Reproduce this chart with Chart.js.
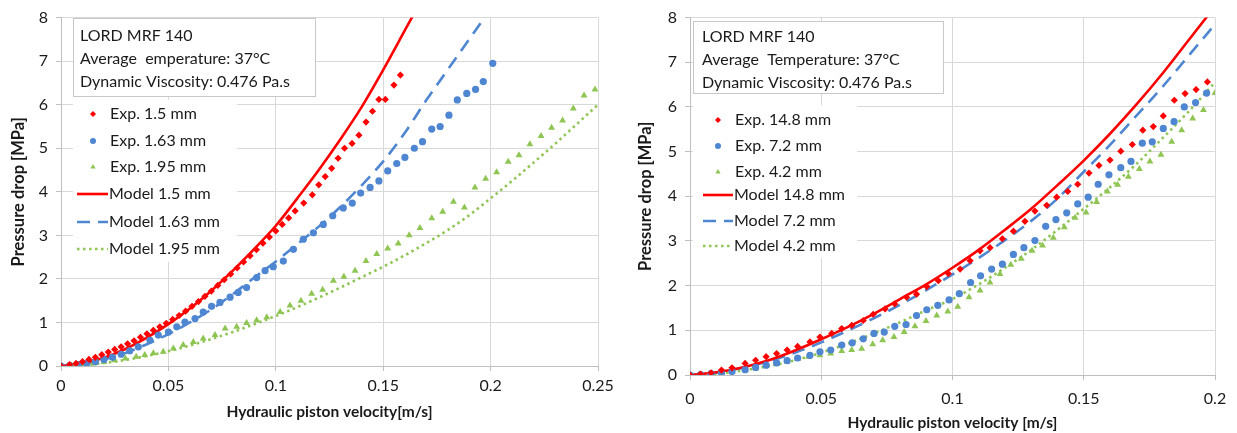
<!DOCTYPE html>
<html>
<head>
<meta charset="utf-8">
<script src="https://cdn.jsdelivr.net/npm/chart.js@4.4.0/dist/chart.umd.min.js"></script>
<style>
    html, body { margin: 0; padding: 0; background: #fff; }
    #wrap { position: relative; width: 1237px; height: 433px; }
    .panel { position: absolute; top: 0; height: 433px; }
    #left { left: 0; width: 620px; }
    #right { left: 620px; width: 617px; }
</style>
</head>
<body>
<div id="wrap">
    <div class="panel" id="left"><canvas id="chartLeft"></canvas></div>
    <div class="panel" id="right"><canvas id="chartRight"></canvas></div>
</div>
<script>
// ---- left panel: gap size ----
var leftModelV = [0, 0.01, 0.02, 0.03, 0.04, 0.05, 0.06, 0.07, 0.08, 0.09, 0.10, 0.11, 0.12, 0.13, 0.14, 0.15, 0.16, 0.17, 0.18, 0.19, 0.20, 0.21, 0.22, 0.23, 0.24, 0.25];
var model15 = [0, 0.06, 0.19, 0.39, 0.65, 0.96, 1.32, 1.73, 2.19, 2.69, 3.22, 3.85, 4.5, 5.2, 5.95, 6.8, 7.7, 8.6];
var model163 = [0, 0.05, 0.15, 0.3, 0.5, 0.73, 1.0, 1.3, 1.65, 2.03, 2.4, 2.8, 3.2, 3.65, 4.15, 4.7, 5.35, 6.1, 6.8, 7.5, 8.2];
var model195 = [0, 0.02, 0.07, 0.14, 0.23, 0.34, 0.47, 0.62, 0.78, 0.96, 1.15, 1.35, 1.57, 1.8, 2.04, 2.28, 2.54, 2.82, 3.12, 3.46, 3.85, 4.25, 4.67, 5.1, 5.55, 6.0];

var exp15V = [0, 0.004, 0.007, 0.010, 0.013, 0.016, 0.019, 0.022, 0.025, 0.028, 0.031, 0.034, 0.037, 0.040, 0.043, 0.046, 0.049, 0.052, 0.055, 0.058, 0.061, 0.064, 0.067, 0.070, 0.073, 0.076, 0.079, 0.082, 0.085, 0.088, 0.091, 0.094, 0.097, 0.100, 0.103, 0.106, 0.109, 0.113, 0.117, 0.120, 0.123, 0.126, 0.129, 0.132, 0.1355, 0.1387, 0.142, 0.145, 0.148, 0.151, 0.155, 0.158];
var exp15P = [0, 0.03, 0.06, 0.10, 0.15, 0.20, 0.26, 0.32, 0.38, 0.44, 0.51, 0.58, 0.66, 0.74, 0.82, 0.90, 0.98, 1.07, 1.16, 1.26, 1.37, 1.48, 1.60, 1.72, 1.85, 1.98, 2.11, 2.25, 2.39, 2.53, 2.67, 2.82, 2.96, 3.10, 3.25, 3.40, 3.56, 3.74, 3.93, 4.16, 4.35, 4.54, 4.77, 5.0, 5.11, 5.30, 5.60, 5.85, 6.12, 6.12, 6.45, 6.68];
var exp163V = [0, 0.004, 0.008, 0.012, 0.016, 0.02, 0.024, 0.028, 0.032, 0.036, 0.0414, 0.0453, 0.05, 0.0539, 0.0577, 0.0624, 0.0662, 0.0701, 0.074, 0.0787, 0.0825, 0.0864, 0.0911, 0.095, 0.0988, 0.1035, 0.1082, 0.1128, 0.1175, 0.1221, 0.1265, 0.1314, 0.1356, 0.1395, 0.1439, 0.148, 0.1521, 0.1563, 0.1601, 0.1645, 0.1683, 0.1726, 0.1765, 0.1806, 0.1845, 0.1889, 0.193, 0.1966, 0.201];
var exp163P = [0, 0.01, 0.03, 0.06, 0.1, 0.15, 0.2, 0.27, 0.35, 0.44, 0.59, 0.71, 0.78, 0.9, 1.01, 1.09, 1.24, 1.37, 1.46, 1.58, 1.69, 1.8, 2.03, 2.19, 2.28, 2.41, 2.68, 2.91, 3.06, 3.25, 3.45, 3.63, 3.74, 3.97, 4.1, 4.25, 4.48, 4.65, 4.79, 5.0, 5.15, 5.44, 5.5, 5.76, 6.11, 6.26, 6.35, 6.53, 6.95];
var exp195V = [0, 0.005, 0.01, 0.015, 0.02, 0.025, 0.03, 0.035, 0.039, 0.043, 0.0476, 0.0523, 0.0569, 0.0616, 0.0662, 0.0717, 0.0764, 0.0818, 0.0864, 0.0911, 0.0958, 0.102, 0.1066, 0.1117, 0.1167, 0.1218, 0.1268, 0.1317, 0.1369, 0.142, 0.147, 0.1521, 0.157, 0.1621, 0.1671, 0.1726, 0.1777, 0.1827, 0.1878, 0.1927, 0.1977, 0.2028, 0.2082, 0.2132, 0.2183, 0.2235, 0.2284, 0.2335, 0.2385, 0.2435, 0.2486];
var exp195P = [0, 0.01, 0.03, 0.06, 0.09, 0.13, 0.17, 0.21, 0.25, 0.29, 0.33, 0.4, 0.48, 0.55, 0.63, 0.71, 0.86, 0.9, 0.99, 1.05, 1.12, 1.24, 1.39, 1.5, 1.66, 1.75, 1.96, 2.05, 2.19, 2.41, 2.57, 2.7, 2.81, 3.0, 3.17, 3.39, 3.54, 3.77, 3.64, 4.1, 4.3, 4.45, 4.69, 4.84, 5.09, 5.28, 5.47, 5.64, 5.91, 6.21, 6.35];

// ---- right panel: gap length ----
var rightModelV = [0, 0.01, 0.02, 0.03, 0.04, 0.05, 0.06, 0.07, 0.08, 0.09, 0.10, 0.11, 0.12, 0.13, 0.14, 0.15, 0.16, 0.17, 0.18, 0.19, 0.20];
var model148 = [0, 0.06, 0.17, 0.33, 0.55, 0.8, 1.07, 1.37, 1.7, 2.03, 2.4, 2.8, 3.25, 3.72, 4.25, 4.8, 5.4, 6.05, 6.75, 7.5, 8.25];
var model72 = [0, 0.05, 0.16, 0.31, 0.5, 0.73, 0.99, 1.27, 1.57, 1.9, 2.25, 2.62, 3.02, 3.45, 3.95, 4.55, 5.15, 5.8, 6.45, 7.15, 7.85];
var model42 = [0, 0.03, 0.1, 0.2, 0.33, 0.5, 0.7, 0.93, 1.18, 1.45, 1.7, 2.03, 2.4, 2.8, 3.25, 3.72, 4.2, 4.72, 5.3, 5.9, 6.55];

var exp148V = [0, 0.004, 0.008, 0.012, 0.016, 0.021, 0.025, 0.029, 0.033, 0.037, 0.041, 0.0457, 0.0495, 0.054, 0.0578, 0.0616, 0.066, 0.0698, 0.0743, 0.078, 0.0825, 0.0863, 0.0902, 0.0946, 0.0984, 0.1029, 0.1067, 0.1105, 0.1143, 0.119, 0.1232, 0.1276, 0.1314, 0.1359, 0.1397, 0.1439, 0.1477, 0.152, 0.1558, 0.16, 0.1641, 0.1685, 0.1725, 0.1765, 0.1803, 0.1845, 0.1886, 0.1928, 0.1971];
var exp148P = [0, 0.02, 0.05, 0.11, 0.16, 0.26, 0.33, 0.41, 0.48, 0.56, 0.64, 0.74, 0.85, 0.93, 1.04, 1.11, 1.22, 1.36, 1.48, 1.59, 1.74, 1.81, 1.98, 2.11, 2.27, 2.37, 2.56, 2.78, 2.85, 3.05, 3.22, 3.44, 3.67, 3.8, 3.98, 4.11, 4.27, 4.52, 4.69, 4.81, 5.01, 5.16, 5.48, 5.56, 5.8, 6.15, 6.3, 6.39, 6.56];
var exp72V = [0, 0.004, 0.008, 0.012, 0.016, 0.021, 0.025, 0.029, 0.033, 0.037, 0.041, 0.0457, 0.0495, 0.0536, 0.0578, 0.0618, 0.066, 0.0701, 0.074, 0.078, 0.0823, 0.0863, 0.0902, 0.0944, 0.0987, 0.1026, 0.1069, 0.1107, 0.1149, 0.119, 0.1232, 0.1272, 0.1314, 0.1355, 0.1394, 0.1435, 0.1477, 0.1517, 0.1555, 0.1596, 0.1641, 0.168, 0.1723, 0.1761, 0.1803, 0.1844, 0.1883, 0.1926, 0.1968];
var exp72P = [0, 0.01, 0.03, 0.05, 0.08, 0.12, 0.17, 0.22, 0.27, 0.32, 0.38, 0.44, 0.52, 0.56, 0.67, 0.72, 0.81, 0.93, 0.96, 1.09, 1.13, 1.33, 1.46, 1.56, 1.68, 1.82, 2.07, 2.22, 2.37, 2.48, 2.7, 2.85, 3.01, 3.33, 3.48, 3.63, 3.83, 3.98, 4.27, 4.48, 4.64, 4.78, 5.19, 5.22, 5.52, 5.67, 6.0, 6.1, 6.31];
var exp42V = [0, 0.004, 0.008, 0.012, 0.016, 0.021, 0.025, 0.029, 0.033, 0.037, 0.041, 0.0451, 0.0495, 0.0536, 0.0578, 0.0616, 0.0654, 0.0696, 0.0734, 0.0777, 0.0816, 0.0857, 0.0899, 0.094, 0.0982, 0.102, 0.1063, 0.1105, 0.1143, 0.1181, 0.1222, 0.1262, 0.1303, 0.1343, 0.1384, 0.1426, 0.1467, 0.1509, 0.1549, 0.159, 0.1629, 0.167, 0.1712, 0.1752, 0.1794, 0.1835, 0.1873, 0.1915, 0.1956, 0.2];
var exp42P = [0, 0.01, 0.02, 0.04, 0.07, 0.11, 0.15, 0.2, 0.25, 0.3, 0.36, 0.41, 0.44, 0.48, 0.54, 0.56, 0.59, 0.69, 0.78, 0.85, 0.96, 1.09, 1.21, 1.33, 1.42, 1.53, 1.74, 1.89, 2.07, 2.26, 2.47, 2.6, 2.78, 2.9, 3.07, 3.31, 3.52, 3.64, 3.87, 4.11, 4.26, 4.44, 4.61, 4.78, 4.93, 5.22, 5.48, 5.74, 5.93, 6.31];

var RED = '#ff0000';
var BLUE = '#4f86d1';
var GREEN = '#8fc553';
var FONT = 'Lato, "Noto Sans", sans-serif';

function pairs(xs, ys) {
    return ys.map(function (y, i) { return { x: xs[i], y: y }; });
}

function expSet(label, xs, ys, color, style) {
    return {
        label: label, data: pairs(xs, ys), showLine: false,
        pointStyle: style, pointRadius: style === 'triangle' ? 4 : 3.6,
        pointBackgroundColor: color, pointBorderColor: color, pointBorderWidth: 0,
        backgroundColor: color, borderColor: color
    };
}

function modelSet(label, xs, ys, color, dash) {
    return {
        label: label, data: pairs(xs, ys), showLine: true,
        borderColor: color, backgroundColor: color, borderWidth: 2.6,
        borderDash: dash, borderCapStyle: 'butt', pointRadius: 0,
        cubicInterpolationMode: 'monotone'
    };
}

// info box + legend, drawn between grid and data
var panelDecor = {
    id: 'panelDecor',
    beforeDatasetsDraw: function (chart, args, o) {
        var ctx = chart.ctx;
        ctx.save();
        ctx.fillStyle = '#fff';
        ctx.fillRect(o.legendBox[0], o.legendBox[1], o.legendBox[2], o.legendBox[3]);
        var b = o.infoBox;
        ctx.fillRect(b[0], b[1], b[2], b[3]);
        ctx.strokeStyle = '#c8c8c8';
        ctx.lineWidth = 1;
        ctx.strokeRect(b[0] + 0.5, b[1] + 0.5, b[2], b[3]);
        ctx.fillStyle = '#1a1a1a';
        ctx.font = o.fontSize + 'px ' + FONT;
        ctx.textBaseline = 'middle';
        ctx.textAlign = 'left';
        o.infoLines.forEach(function (t, i) {
            ctx.fillText(t, o.infoX, o.infoRows[i]);
        });
        chart.data.datasets.forEach(function (ds, i) {
            var y = o.legendRows[i];
            ctx.save();
            if (ds.showLine) {
                ctx.strokeStyle = ds.borderColor;
                ctx.lineWidth = ds.borderWidth;
                ctx.setLineDash(ds.borderDash || []);
                ctx.beginPath();
                ctx.moveTo(o.lineX[0], y);
                ctx.lineTo(o.lineX[1], y);
                ctx.stroke();
            } else {
                ctx.fillStyle = ds.pointBackgroundColor;
                ctx.strokeStyle = ds.pointBackgroundColor;
                Chart.helpers.drawPoint(ctx, { pointStyle: ds.pointStyle, radius: 3, borderWidth: 0 }, o.markerX, y);
            }
            ctx.restore();
            ctx.fillStyle = '#1a1a1a';
            ctx.fillText(ds.label, ds.showLine ? o.lineX[1] + 1 : o.textX, y);
        });
        ctx.restore();
    }
};

function makeScales(xMax, yWidth, xHeight, xTitle, tickPadX, titlePadX, titlePadY) {
    return {
        x: {
            type: 'linear', min: 0, max: xMax,
            afterFit: function (s) { s.height = xHeight; },
            ticks: {
                stepSize: 0.05, padding: tickPadX, color: '#1a1a1a', font: { family: FONT, size: 16 },
                callback: function (v) { return String(+v.toFixed(2)); }
            },
            grid: { color: '#d9d9d9', tickColor: '#bfbfbf', tickLength: 5 },
            border: { color: '#bfbfbf' },
            title: { display: true, text: xTitle, color: '#1a1a1a', font: { family: FONT, size: 15.5, weight: 'bold' }, padding: { top: 0, bottom: titlePadX } }
        },
        y: {
            min: 0, max: 8,
            afterFit: function (s) { s.width = yWidth; },
            ticks: { stepSize: 1, padding: 8, color: '#1a1a1a', font: { family: FONT, size: 16 } },
            grid: { color: '#d9d9d9', tickColor: '#bfbfbf', tickLength: 5 },
            border: { color: '#bfbfbf' },
            title: { display: true, text: 'Pressure drop [MPa]', color: '#1a1a1a', font: { family: FONT, size: 16.5, weight: 'bold' }, padding: { top: titlePadY, bottom: 0 } }
        }
    };
}

function baseOptions(scales, decor) {
    return {
        responsive: true, maintainAspectRatio: false, animation: false,
        layout: { padding: { top: 15, right: 22, left: 0, bottom: 0 } },
        scales: scales,
        plugins: { legend: { display: false }, tooltip: { enabled: false }, panelDecor: decor }
    };
}

new Chart(document.getElementById('chartLeft'), {
    type: 'scatter',
    data: {
        datasets: [
            expSet('Exp. 1.5 mm', exp15V, exp15P, RED, 'rectRot'),
            expSet('Exp. 1.63 mm', exp163V, exp163P, BLUE, 'circle'),
            expSet('Exp. 1.95 mm', exp195V, exp195P, GREEN, 'triangle'),
            modelSet('Model 1.5 mm', leftModelV, model15, RED, []),
            modelSet('Model 1.63 mm', leftModelV, model163, BLUE, [13, 8]),
            modelSet('Model 1.95 mm', leftModelV, model195, GREEN, [2.5, 3.5])
        ]
    },
    options: baseOptions(makeScales(0.25, 61, 67, 'Hydraulic piston velocity[m/s]', 5, 12, 9), {
        infoBox: [73, 18, 242, 78],
        infoX: 80, infoRows: [36, 59, 82],
        infoLines: ['LORD MRF 140', 'Average  emperature: 37\u00B0C', 'Dynamic Viscosity: 0.476 Pa.s'],
        legendBox: [73, 100, 164, 162],
        legendRows: [114, 141, 167, 194, 222, 249],
        markerX: 93, textX: 110, lineX: [77, 108], fontSize: 16
    }),
    plugins: [panelDecor]
});

new Chart(document.getElementById('chartRight'), {
    type: 'scatter',
    data: {
        datasets: [
            expSet('Exp. 14.8 mm', exp148V, exp148P, RED, 'rectRot'),
            expSet('Exp. 7.2 mm', exp72V, exp72P, BLUE, 'circle'),
            expSet('Exp. 4.2 mm', exp42V, exp42P, GREEN, 'triangle'),
            modelSet('Model 14.8 mm', rightModelV, model148, RED, []),
            modelSet('Model 7.2 mm', rightModelV, model72, BLUE, [13, 8]),
            modelSet('Model 4.2 mm', rightModelV, model42, GREEN, [2.5, 3.5])
        ]
    },
    options: baseOptions(makeScales(0.2, 70, 58, 'Hydraulic piston velocity [m/s]', 9, 1, 16), {
        infoBox: [73, 21, 250, 72],
        infoX: 82, infoRows: [37, 60, 83],
        infoLines: ['LORD MRF 140', 'Average  Temperature: 37\u00B0C', 'Dynamic Viscosity: 0.476 Pa.s'],
        legendBox: [73, 105, 164, 153],
        legendRows: [120, 146, 172, 195, 221, 246],
        markerX: 98, textX: 115, lineX: [83, 113], fontSize: 16
    }),
    plugins: [panelDecor]
});
</script>
</body>
</html>
